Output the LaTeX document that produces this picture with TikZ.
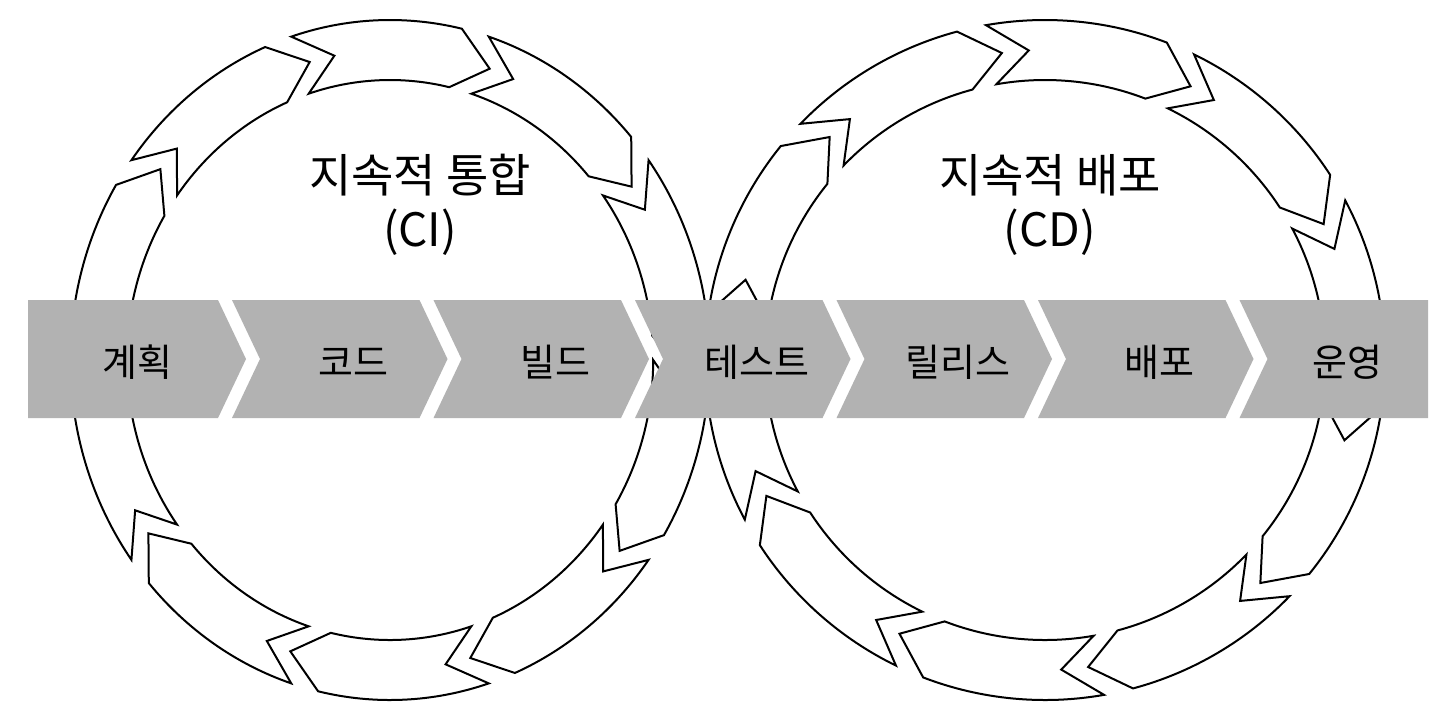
\documentclass[tikz,border=0pt]{standalone}
\usepackage{fontspec}
\setmainfont{Noto Sans CJK KR}
\usepackage{tikz}
\usetikzlibrary{calc,positioning}
\definecolor{bandgray}{RGB}{178,178,178}
\tikzstyle{seg}=[draw=black,fill=white,line width=1pt,line join=miter]
\tikzstyle{stage}=[fill=bandgray,draw=none]
\tikzstyle{stagelabel}=[font=\fontsize{19}{21}\selectfont,text=black]
\tikzstyle{title}=[font=\fontsize{23}{27}\selectfont,align=center,text=black]

\begin{document}
\begin{tikzpicture}[x=0.5pt,y=-0.5pt]
\useasboundingbox (0,0) rectangle (1456,720);
\fill[white] (0,0) rectangle (1456,720);
% rings of curved arrows
\foreach \cx/\off/\sx in {390/0/0.94,1045/8/1}{
\begin{scope}[shift={(\cx,360)},xscale=\sx]
\foreach \k in {0,...,9}{
	\pgfmathsetmacro{\a}{\off+36*\k}
	\draw[seg] (\a:340) arc[start angle=\a, end angle=\a+31, radius=340]
		-- (\a+38:310) -- (\a+31:280) arc[start angle=\a+31, end angle=\a, radius=280]
		-- (\a+7:310) -- cycle;
}
\end{scope}
}
% band of stages
\foreach \i/\name/\txt in {0/plan/계획,1/code/코드,2/build/빌드,3/test/테스트,4/release/릴리스,5/deploy/배포,6/operate/운영}{
	\pgfmathsetmacro{\l}{\i==0 ? 28 : 232+201.5*(\i-1)}
	\pgfmathsetmacro{\r}{\i==6 ? 1428 : 218+201.5*\i}
	\pgfmathsetmacro{\tip}{\i==6 ? 0 : 28}
	\pgfmathsetmacro{\notch}{\i==0 ? 0 : 28}
	\fill[stage] (\l,300) -- (\r,300) -- (\r+\tip,359) -- (\r,418) -- (\l,418) -- (\l+\notch,359) -- cycle;
	\node[stagelabel] (\name) at ({(\l+\r+\notch+\tip)/2},362) {\txt};
}
\node[title] (ci) at (420,205) {지속적 통합\\(CI)};
\node[title] (cd) at (1050,205) {지속적 배포\\(CD)};
\end{tikzpicture}
\end{document}
